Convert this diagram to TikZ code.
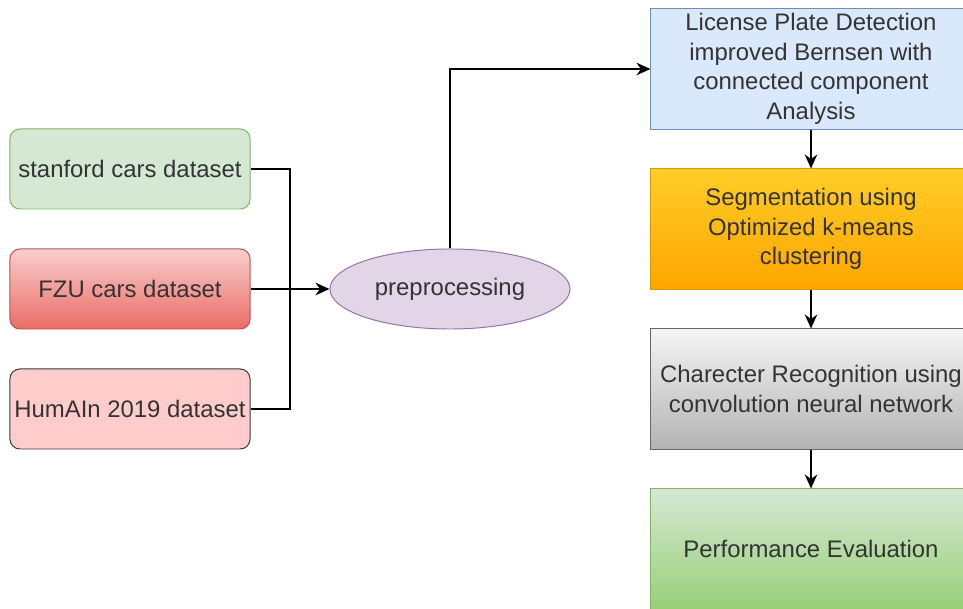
\documentclass[tikz,border=0pt]{standalone}
\usepackage{fontspec}
\setmainfont{Liberation Sans}
\usetikzlibrary{arrows.meta,shapes.geometric}
\definecolor{txt}{HTML}{333333}
\definecolor{greenfill}{HTML}{D5E8D4}
\definecolor{greenline}{HTML}{82B366}
\definecolor{greendark}{HTML}{97D077}
\definecolor{redtop}{HTML}{F8CECC}
\definecolor{redbot}{HTML}{EA6B66}
\definecolor{redline}{HTML}{B85450}
\definecolor{pinkfill}{HTML}{FFCCCC}
\definecolor{pinkline}{HTML}{36393D}
\definecolor{purplefill}{HTML}{E1D5E7}
\definecolor{purpleline}{HTML}{9673A6}
\definecolor{bluefill}{HTML}{DAE8FC}
\definecolor{blueline}{HTML}{6C8EBF}
\definecolor{ambertop}{HTML}{FFCD28}
\definecolor{amberbot}{HTML}{FFA500}
\definecolor{amberline}{HTML}{D79B00}
\definecolor{greytop}{HTML}{F5F5F5}
\definecolor{greybot}{HTML}{B3B3B3}
\definecolor{greyline}{HTML}{666666}
\begin{document}
\begin{tikzpicture}[x=0.025cm,y=-0.025cm,
    every node/.style={font=\fontsize{17}{21}\selectfont,text=txt,align=center,line width=0.7pt},
    srcbox/.style={rectangle,rounded corners=7pt,minimum width=6cm,minimum height=2cm,inner sep=0pt},
    stagebox/.style={rectangle,minimum width=8cm,minimum height=3cm,inner sep=0pt},
    link/.style={line width=1pt,black},
    arr/.style={link,-{Stealth[length=10pt,width=9pt]}}]
    \clip (0,0) rectangle (963,609);
    \fill[white] (0,0) rectangle (963,609);
    % datasets
    \node[srcbox,fill=greenfill,draw=greenline] (stanford) at (130,169) {stanford cars dataset};
    \node[srcbox,top color=redtop,bottom color=redbot,draw=redline] (fzu) at (130,289) {FZU cars dataset};
    \node[srcbox,fill=pinkfill,draw=pinkline] (humain) at (130,409) {HumAIn 2019 dataset};
    \node[ellipse,minimum width=6cm,minimum height=2cm,inner sep=0pt,fill=purplefill,draw=purpleline] (prep) at (450,289) {preprocessing};
    % pipeline
    \node[stagebox,fill=bluefill,draw=blueline] (detect) at (811,69) {License Plate Detection\\improved Bernsen with\\connected component\\Analysis};
    \node[stagebox,top color=ambertop,bottom color=amberbot,draw=amberline] (segment) at (811,229) {Segmentation using\\Optimized k-means\\clustering};
    \node[stagebox,top color=greytop,bottom color=greybot,draw=greyline] (recog) at (811,389) {Charecter Recognition using\\convolution neural network};
    \node[stagebox,top color=greenfill,bottom color=greendark,draw=greenline] (perf) at (811,549) {Performance Evaluation};
    % connectors
    \coordinate (join) at (290,289);
    \draw[link] (stanford.east) -| (join);
    \draw[link] (humain.east) -| (join);
    \draw[arr] (fzu.east) -- (prep.west);
    \draw[arr] (prep.north) |- (detect.west);
    \draw[arr] (detect) -- (segment);
    \draw[arr] (segment) -- (recog);
    \draw[arr] (recog) -- (perf);
\end{tikzpicture}
\end{document}
